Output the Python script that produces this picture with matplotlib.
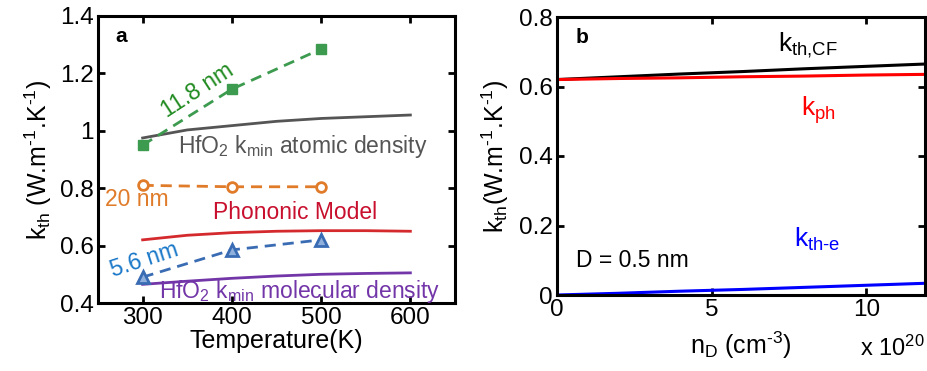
import numpy as np
import matplotlib
matplotlib.use('Agg')
import matplotlib.pyplot as plt

plt.rcParams['font.family'] = ['Liberation Sans', 'DejaVu Sans']
plt.rcParams['mathtext.fontset'] = 'custom'
plt.rcParams['mathtext.rm'] = 'Liberation Sans'
plt.rcParams['mathtext.it'] = 'Liberation Sans'
plt.rcParams['mathtext.default'] = 'regular'

# Panel a: thermal conductivity vs temperature
temp_meas = [300, 400, 500]
k_118nm = [0.95, 1.145, 1.285]
k_20nm = [0.81, 0.805, 0.805]
k_56nm = [0.49, 0.585, 0.62]

temp_model = [300, 350, 400, 450, 500, 550, 600]
k_atomic = [0.975, 1.003, 1.018, 1.033, 1.043, 1.049, 1.055]
k_phononic = [0.620, 0.636, 0.645, 0.650, 0.652, 0.652, 0.650]
k_molecular = [0.465, 0.476, 0.486, 0.494, 0.500, 0.503, 0.505]

# Panel b: conductivity vs donor density (x 1e20 cm^-3)
n_d = [0, 2, 4, 6, 8, 10, 12]
k_cf = [0.620, 0.628, 0.636, 0.643, 0.651, 0.658, 0.665]
k_ph = [0.620, 0.623, 0.625, 0.628, 0.630, 0.633, 0.635]
k_e = [0.000, 0.005, 0.011, 0.016, 0.022, 0.028, 0.034]

GREEN = '#3d9b4f'
ORANGE = '#e07b2a'
BLUE = '#3a6cb4'
GRAY = '#555555'
RED = '#d42a2e'
PURPLE = '#7336a8'

HY = '\u2010'  # plain hyphen, keeps exponents short

fig = plt.figure(figsize=(9.27, 3.71), dpi=100)
ax1 = fig.add_axes([98 / 927, 68 / 371, 357 / 927, 287 / 371])
ax2 = fig.add_axes([557 / 927, 76 / 371, 368 / 927, 278 / 371])


def style_axes(ax):
    for s in ax.spines.values():
        s.set_linewidth(2.2)
    ax.tick_params(direction='in', length=5, width=2, labelsize=17.5,
                   top=True, right=True, pad=3)


lw = 2.0
ax1.plot(temp_model, k_atomic, color=GRAY, lw=lw)
ax1.plot(temp_model, k_phononic, color=RED, lw=lw)
ax1.plot(temp_model, k_molecular, color=PURPLE, lw=lw)
ax1.plot(temp_meas, k_118nm, '--s', color=GREEN, lw=lw, ms=7,
         mfc=GREEN, mec=GREEN, dashes=(4, 2.5))
ax1.plot(temp_meas, k_20nm, '--o', color=ORANGE, lw=lw, ms=7,
         mfc='white', mec=ORANGE, mew=2, dashes=(4, 2.5))
ax1.plot(temp_meas, k_56nm, '--^', color=BLUE, lw=lw, ms=8,
         mfc='#8fb0dc', mec=BLUE, mew=2, dashes=(4, 2.5))

ax1.set_xlim(250, 650)
ax1.set_ylim(0.4, 1.4)
ax1.set_xticks([300, 400, 500, 600])
ax1.set_yticks([0.4, 0.6, 0.8, 1.0, 1.2, 1.4])
ax1.set_yticklabels(['0.4', '0.6', '0.8', '1', '1.2', '1.4'])
style_axes(ax1)
ax1.set_xlabel('Temperature(K)', fontsize=18, labelpad=0)
ax1.set_ylabel(f'$k_{{th}}$ (W.m$^{{{HY}1}}$.K$^{{{HY}1}}$)', fontsize=18,
               labelpad=4)

fs = 16.5
ax1.text(0.05, 0.96, 'a', transform=ax1.transAxes, fontsize=15,
         fontweight='bold', va='top')
ax1.text(361, 1.142, '11.8 nm', color='#1f8a1f', fontsize=fs,
         rotation=33, ha='center', va='center')
ax1.text(479, 0.944, 'HfO$_2$ k$_{min}$ atomic density', color=GRAY,
         fontsize=fs, ha='center', va='center')
ax1.text(293, 0.762, '20 nm', color=ORANGE, fontsize=fs,
         ha='center', va='center')
ax1.text(471, 0.714, 'Phononic Model', color='#c8102e', fontsize=fs,
         ha='center', va='center')
ax1.text(302, 0.55, '5.6 nm', color='#1a78c8', fontsize=fs,
         rotation=18, ha='center', va='center')
ax1.text(476, 0.440, 'HfO$_2$ k$_{min}$ molecular density', color=PURPLE,
         fontsize=fs, ha='center', va='center', clip_on=False)

ax2.plot(n_d, k_cf, color='black', lw=2.2)
ax2.plot(n_d, k_ph, color='#ff0000', lw=2.2)
ax2.plot(n_d, k_e, color='#0000ff', lw=2.2)
ax2.set_xlim(0, 11.9)
ax2.set_ylim(0, 0.8)
ax2.set_xticks([0, 5, 10])
ax2.set_yticks([0, 0.2, 0.4, 0.6, 0.8])
ax2.set_yticklabels(['0', '0.2', '0.4', '0.6', '0.8'])
style_axes(ax2)
ax2.set_xlabel('n$_D$ (cm$^{-3}$)'.replace('-', HY), fontsize=18, labelpad=6)
ax2.set_ylabel(f'$k_{{th}}$(W.m$^{{{HY}1}}$.K$^{{{HY}1}}$)', fontsize=18,
               labelpad=6)
ax2.text(1.0, -0.19, 'x 10$^{20}$', transform=ax2.transAxes, fontsize=17,
         ha='right', va='center')

ax2.text(0.05, 0.96, 'b', transform=ax2.transAxes, fontsize=15,
         fontweight='bold', va='top')
ax2.text(7.15, 0.70, 'k$_{th{,}CF}$', color='black', fontsize=19,
         ha='left', va='baseline')
ax2.text(7.9, 0.515, 'k$_{ph}$', color='#ff0000', fontsize=19,
         ha='left', va='baseline')
ax2.text(7.65, 0.14, f'k$_{{th{HY}e}}$', color='#0000ff', fontsize=19,
         ha='left', va='baseline')
ax2.text(0.6, 0.10, 'D = 0.5 nm', color='black', fontsize=16.5,
         ha='left', va='center')

fig.savefig('out.png', dpi=100)
